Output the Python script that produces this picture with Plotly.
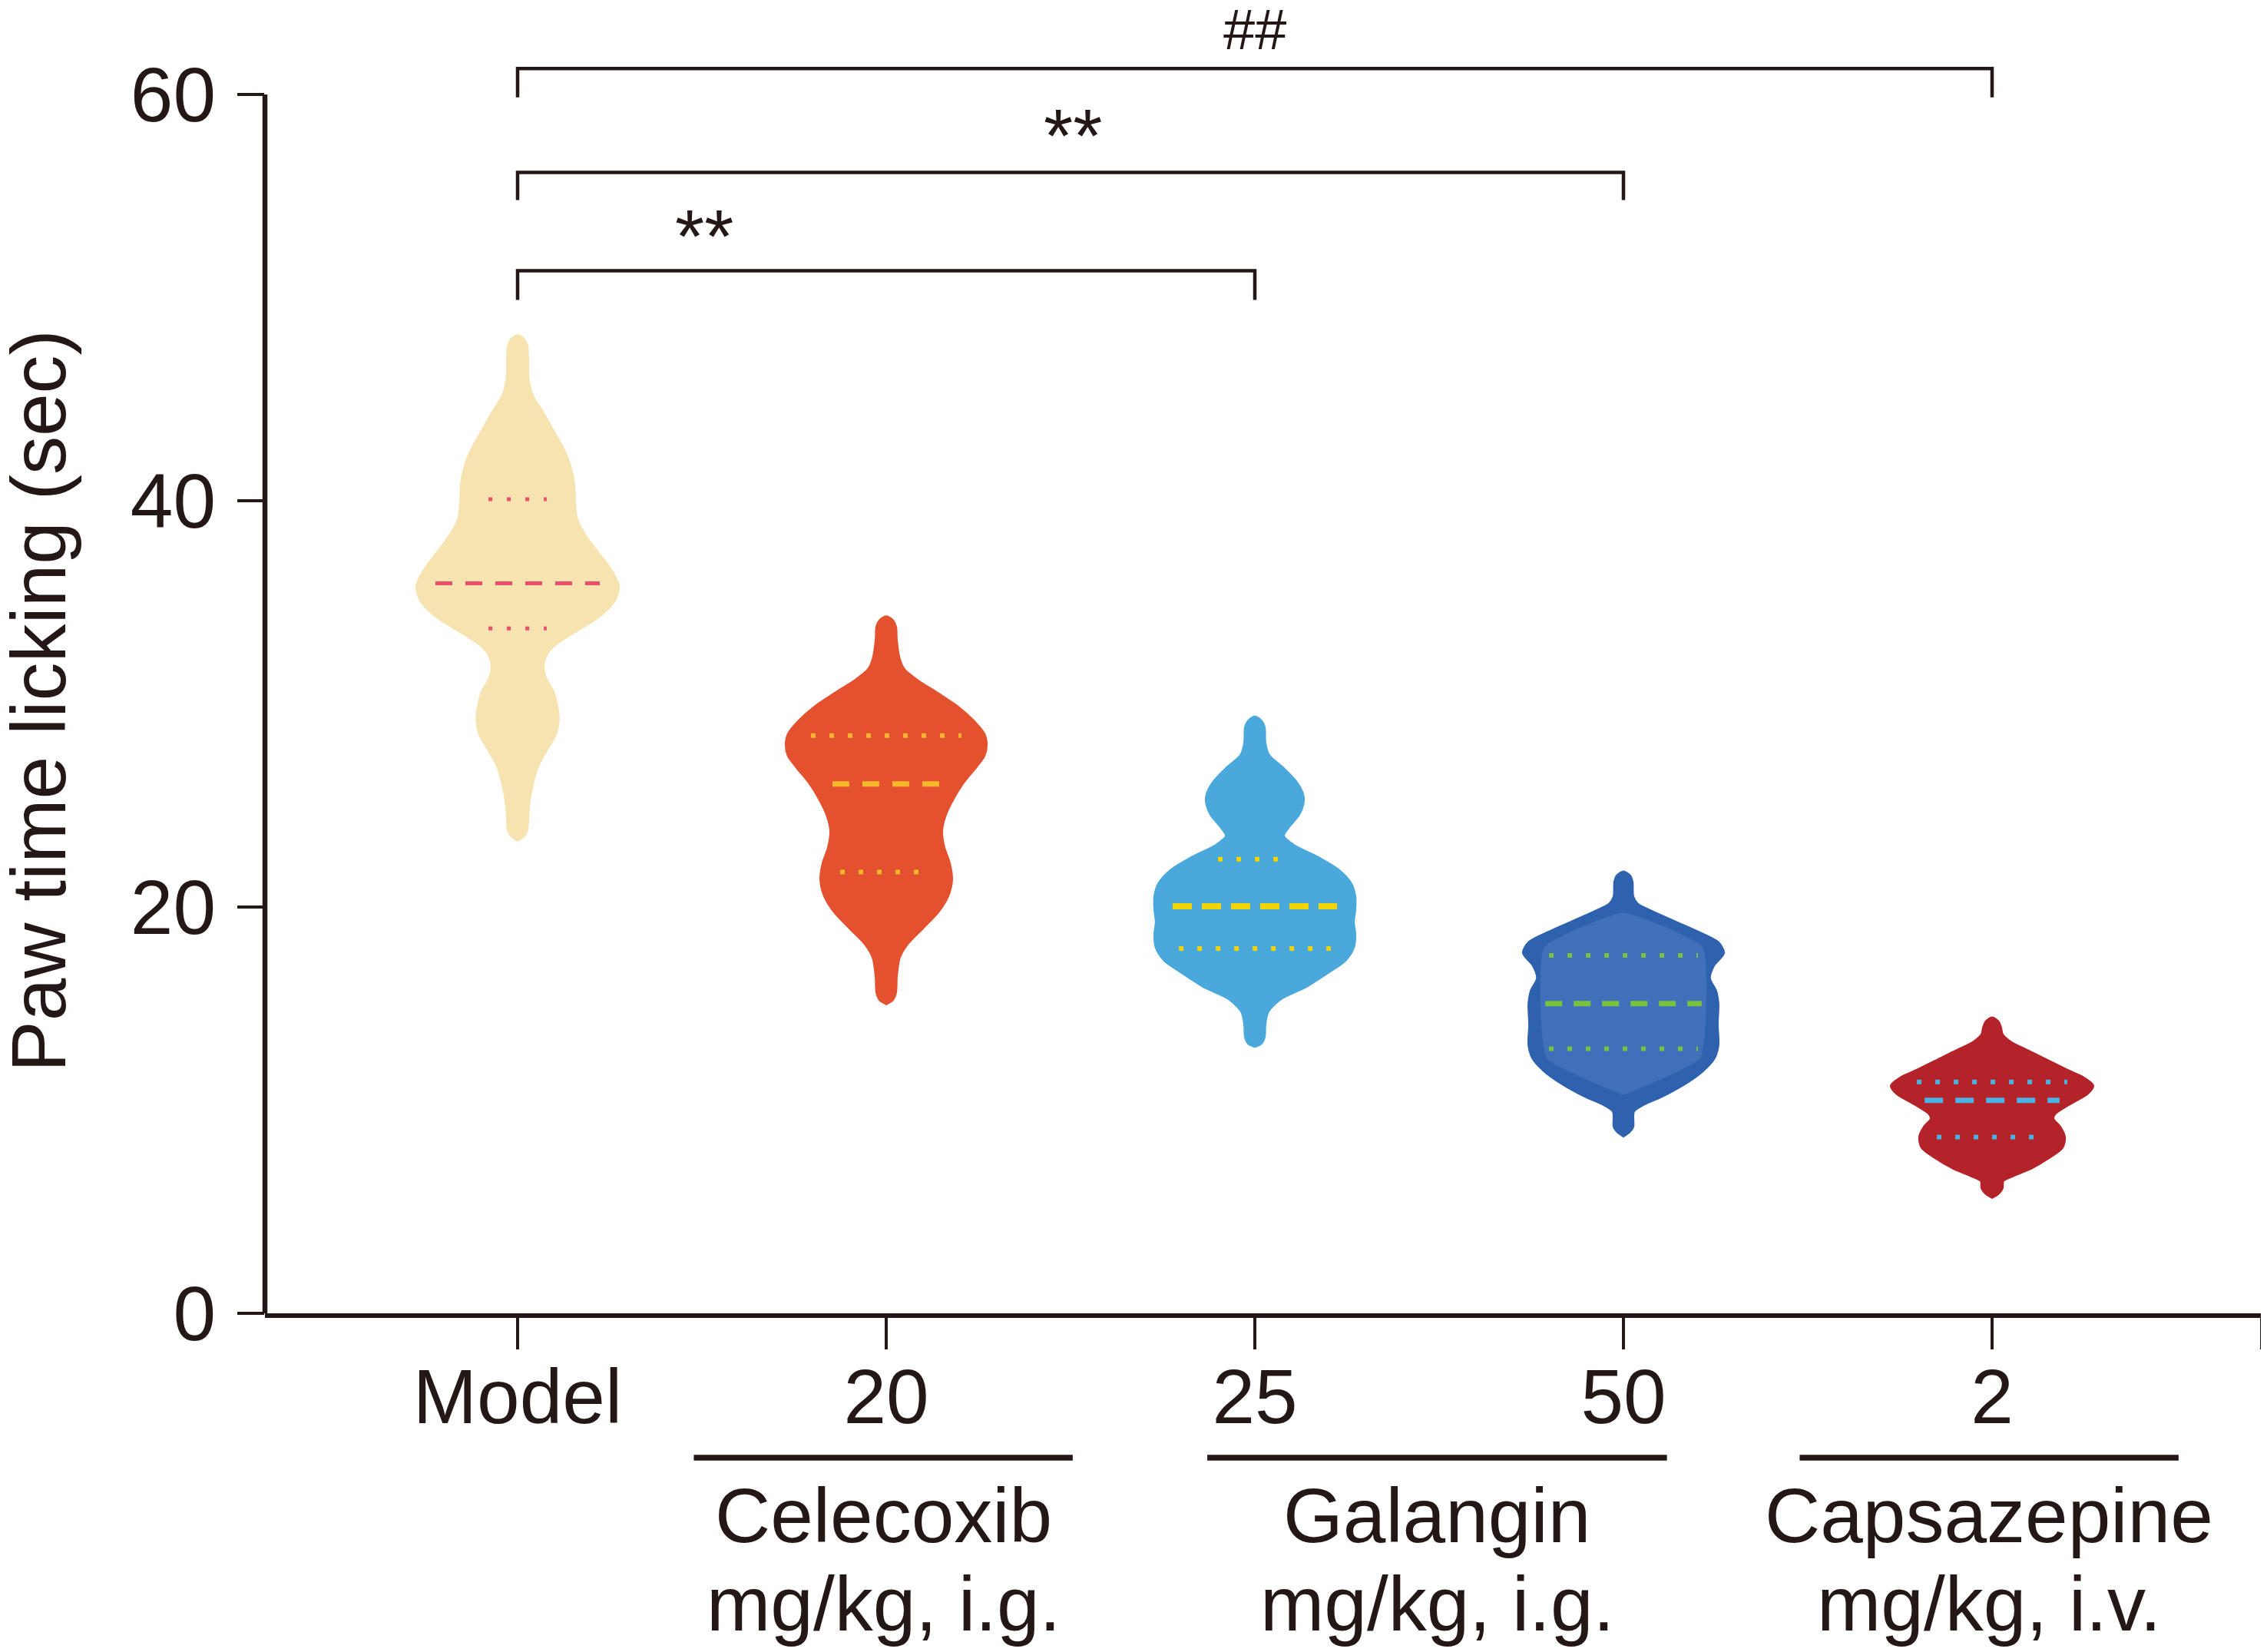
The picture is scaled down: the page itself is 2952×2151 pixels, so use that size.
import plotly.graph_objects as go

# ---------------- data ----------------
categories = ["Model", "20", "25", "50", "2"]
cat_pos = [0, 1, 2, 3, 4]

# violin outlines: value levels (sec) and density half-widths (category units)
model_y = [48.12, 47.95, 47.6, 46.9, 46.04, 45.17, 44.30, 43.43, 42.56, 41.70, 40.83, 39.96, 39.09,
           38.23, 37.36, 36.49, 35.80, 35.10, 34.41, 33.89, 33.37, 32.84, 32.33, 31.80, 31.28,
           30.59, 29.89, 29.20, 28.50, 27.64, 26.94, 26.08, 25.21, 24.34, 23.8, 23.5, 23.3]
model_w = [0.0, 0.016, 0.025, 0.027, 0.028, 0.040, 0.069, 0.096, 0.123, 0.142, 0.152, 0.154, 0.160,
           0.185, 0.221, 0.256, 0.273, 0.263, 0.227, 0.185, 0.138, 0.096, 0.075, 0.069, 0.075,
           0.096, 0.106, 0.110, 0.102, 0.075, 0.054, 0.040, 0.031, 0.027, 0.025, 0.016, 0.0]

cele_y = [34.28, 34.1, 33.8, 33.15, 32.22, 31.69, 31.16, 30.50, 29.84, 29.18, 28.51, 27.98, 27.45,
          26.92, 26.12, 25.33, 24.53, 23.74, 22.94, 22.15, 21.35, 20.56, 19.76, 18.96, 18.17,
          17.50, 16.57, 15.8, 15.45, 15.25]
cele_w = [0.0, 0.017, 0.025, 0.027, 0.035, 0.048, 0.083, 0.140, 0.194, 0.235, 0.265, 0.271, 0.265,
          0.244, 0.208, 0.181, 0.160, 0.150, 0.156, 0.171, 0.177, 0.167, 0.140, 0.098, 0.056,
          0.035, 0.027, 0.025, 0.017, 0.0]

gal25_y = [29.35, 29.15, 28.85, 28.08, 27.46, 26.82, 26.19, 25.57, 25.19, 24.56, 23.92, 23.49, 23.04,
           22.41, 21.78, 21.15, 20.52, 19.89, 19.26, 18.63, 18.00, 17.37, 16.74, 16.11, 15.48,
           14.85, 14.22, 13.6, 13.3, 13.15]
gal25_w = [0.0, 0.017, 0.025, 0.027, 0.0375, 0.077, 0.110, 0.129, 0.131, 0.119, 0.090, 0.077, 0.104,
           0.173, 0.229, 0.260, 0.271, 0.271, 0.267, 0.271, 0.267, 0.244, 0.194, 0.140, 0.069,
           0.035, 0.027, 0.025, 0.017, 0.0]

gal50_y = [21.72, 21.55, 21.25, 20.52, 20.14, 19.77, 19.26, 18.76, 18.25, 17.75, 17.12, 16.49, 15.86,
           15.23, 14.22, 13.21, 12.58, 11.95, 11.32, 10.69, 10.31, 9.94, 9.18, 8.95, 8.74]
gal50_w = [0.0, 0.016, 0.023, 0.025, 0.0375, 0.077, 0.140, 0.202, 0.256, 0.271, 0.244, 0.233, 0.250,
           0.256, 0.254, 0.256, 0.246, 0.215, 0.167, 0.104, 0.056, 0.027, 0.025, 0.016, 0.0]
gal50_inner_y = [19.70, 18.0, 12.58, 10.76]
gal50_inner_w = [0.0, 0.215, 0.208, 0.0]

caps_y = [14.54, 14.35, 14.05, 13.72, 13.34, 12.96, 12.46, 11.95, 11.58, 11.20, 10.82, 10.31, 9.81,
          9.56, 9.18, 8.68, 8.17, 7.67, 7.16, 6.79, 6.53, 6.16, 5.9, 5.72]
caps_w = [0.0, 0.016, 0.023, 0.027, 0.050, 0.092, 0.148, 0.204, 0.248, 0.273, 0.258, 0.210, 0.169,
          0.165, 0.183, 0.196, 0.190, 0.154, 0.106, 0.058, 0.029, 0.027, 0.016, 0.0]

# quartiles (sec) and density half-widths at those levels
q3_vals = [40.08, 28.44, 22.35, 17.62, 11.39]
median_vals = [35.94, 26.06, 20.04, 15.25, 10.48]
q1_vals = [33.71, 21.72, 17.96, 13.02, 8.68]
q3_w = [0.079, 0.204, 0.100, 0.202, 0.204]
median_w = [0.223, 0.146, 0.223, 0.212, 0.183]
q1_w = [0.079, 0.125, 0.206, 0.202, 0.150]

# significance brackets
bracket_from = [0, 0, 0]
bracket_to = [2, 3, 4]
bracket_top = [51.32, 56.16, 61.28]
bracket_leg = [49.89, 54.80, 59.86]
sig_labels = ["**", "**", "##"]
sig_x = [0.506, 1.506, 2.0]
sig_y = [53.0, 57.95, 63.2]

# group labels under the axis
group_names = ["Celecoxib", "Galangin", "Capsazepine"]
group_units = ["mg/kg, i.g.", "mg/kg, i.g.", "mg/kg, i.v."]
group_start = [0.478, 1.871, 3.478]
group_end = [1.506, 3.118, 4.506]

y_ticks = [0, 20, 40, 60]
y_title = "Paw time licking (sec)"

# ---------------- styling ----------------
INK = "#231815"
FONT = "Liberation Sans, Arial, sans-serif"
fills = ["#F6E3B0", "#E3512F", "#4AA8DB", "#2E62AE", "#B32329"]
line_cols = ["#E94E6B", "#F5B82B", "#F2D400", "#7AC23E", "#4CB2E3"]
violins = [(model_y, model_w), (cele_y, cele_w), (gal25_y, gal25_w),
           (gal50_y, gal50_w), (caps_y, caps_w)]

# page has an 8px body margin; figure is sized to fit inside the window
OFF = 8
W, H = 2952 - OFF, 2151 - OFF
ML, MR, MT = 345 - OFF, 5, 0
AXIS_PAGE_Y = 1710
MB = H - (AXIS_PAGE_Y - OFF)
plot_h = H - MT - MB
plot_w = W - ML - MR
x0_px = 674 - OFF  # figure pixel of the first category
unit_px = 480
x_lo = (ML - x0_px) / unit_px
x_hi = x_lo + plot_w / unit_px
y_hi = plot_h / 26.45


def ypaper(page_px):
    return (AXIS_PAGE_Y - page_px) / plot_h


def xpaper(page_px):
    return (page_px - OFF - ML) / plot_w


fig = go.Figure()

for i, (vy, vw) in enumerate(violins):
    c = cat_pos[i]
    xs = [c + w for w in vw] + [c - w for w in reversed(vw)]
    ys = list(vy) + list(reversed(vy))
    fig.add_trace(go.Scatter(x=xs, y=ys, fill="toself", fillcolor=fills[i], mode="lines",
                             line=dict(color=fills[i], width=4, shape="spline", smoothing=0.8),
                             hoverinfo="skip", showlegend=False))
    if i == 3:
        xi = [c + w for w in gal50_inner_w] + [c - w for w in reversed(gal50_inner_w)]
        yi = list(gal50_inner_y) + list(reversed(gal50_inner_y))
        fig.add_trace(go.Scatter(x=xi, y=yi, fill="toself", fillcolor="#4070BA", mode="lines",
                                 line=dict(color="#4070BA", width=1, shape="spline", smoothing=0.4),
                                 hoverinfo="skip", showlegend=False))

dash_med = ["22px,17px", "22px,17px", "25px,13px", "22px,15px", "24px,16px"]
med_width = [5, 7, 8, 7, 7]
dot_width = [5, 6, 6, 6, 6]
for i in range(5):
    c = cat_pos[i]
    fig.add_trace(go.Scatter(x=[c - median_w[i], c + median_w[i]], y=[median_vals[i]] * 2,
                             mode="lines", line=dict(color=line_cols[i], width=med_width[i], dash=dash_med[i]),
                             hoverinfo="skip", showlegend=False))
    for qv, qw in ((q3_vals[i], q3_w[i]), (q1_vals[i], q1_w[i])):
        fig.add_trace(go.Scatter(x=[c - qw, c + qw], y=[qv, qv], mode="lines",
                                 line=dict(color=line_cols[i], width=dot_width[i],
                                           dash="%dpx,%dpx" % (dot_width[i], 24 - dot_width[i])),
                                 hoverinfo="skip", showlegend=False))

for a, b, top, leg in zip(bracket_from, bracket_to, bracket_top, bracket_leg):
    fig.add_trace(go.Scatter(x=[cat_pos[a], cat_pos[a], cat_pos[b], cat_pos[b]],
                             y=[leg, top, top, leg], mode="lines",
                             line=dict(color=INK, width=4.5), hoverinfo="skip", showlegend=False))

annotations = []
sig_sizes = [98, 98, 74]
for lab, sx, sy, fs in zip(sig_labels, sig_x, sig_y, sig_sizes):
    annotations.append(dict(x=sx, y=sy, xref="x", yref="y", text=lab, showarrow=False,
                            xanchor="center", yanchor="middle",
                            font=dict(family=FONT, size=fs, color=INK)))

# y-axis title
annotations.append(dict(x=xpaper(50), y=ypaper(913), xref="paper", yref="paper", text=y_title,
                        textangle=-90, showarrow=False, xanchor="center", yanchor="middle",
                        font=dict(family=FONT, size=100, color=INK)))

shapes = [
    # y-axis line from 0 to 60
    dict(type="line", xref="paper", yref="y", x0=0, x1=0, y0=0, y1=y_ticks[-1],
         line=dict(color=INK, width=6.5)),
]
for gs, ge, gn, gu in zip(group_start, group_end, group_names, group_units):
    shapes.append(dict(type="line", xref="x", yref="paper", x0=gs, x1=ge,
                       y0=ypaper(1898), y1=ypaper(1898), line=dict(color=INK, width=7.5)))
    gc = (gs + ge) / 2
    annotations.append(dict(x=gc, y=ypaper(1973), xref="x", yref="paper", text=gn, showarrow=False,
                            xanchor="center", yanchor="middle",
                            font=dict(family=FONT, size=100, color=INK)))
    annotations.append(dict(x=gc, y=ypaper(2088), xref="x", yref="paper", text=gu, showarrow=False,
                            xanchor="center", yanchor="middle",
                            font=dict(family=FONT, size=100, color=INK)))

fig.update_layout(
    width=W, height=H,
    margin=dict(l=ML, r=MR, t=MT, b=MB),
    paper_bgcolor="white", plot_bgcolor="white",
    showlegend=False,
    shapes=shapes, annotations=annotations,
    font=dict(family=FONT, color=INK),
    xaxis=dict(range=[x_lo, x_hi], showgrid=False, zeroline=False,
               showline=True, linecolor=INK, linewidth=6,
               tickmode="array", tickvals=cat_pos + [x_hi - 0.004], ticktext=categories + [""],
               ticks="outside", ticklen=41, tickwidth=3.5, tickcolor=INK,
               ticklabelstandoff=-24,
               tickfont=dict(family=FONT, size=100, color=INK)),
    yaxis=dict(range=[0, y_hi], showgrid=False, zeroline=False, showline=False,
               tickmode="array", tickvals=y_ticks,
               ticks="outside", ticklen=35, tickwidth=4, tickcolor=INK,
               ticklabelstandoff=8,
               tickfont=dict(family=FONT, size=100, color=INK)),
)

fig.write_html("out.html")
